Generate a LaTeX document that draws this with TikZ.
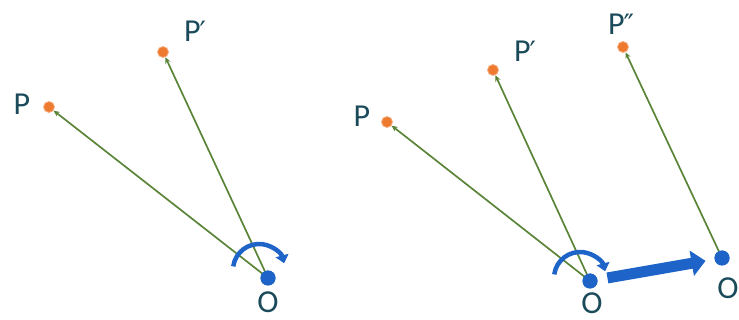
\documentclass[tikz,border=0pt]{standalone}
\usepackage{fontspec}
\setmainfont{Carlito}
\newfontfamily\primefont{DejaVu Sans}
\usetikzlibrary{arrows.meta}
\definecolor{lblc}{HTML}{1B4A5A}
\definecolor{grn}{HTML}{5A8538}
\definecolor{org}{HTML}{EE7A30}
\definecolor{blu}{HTML}{1E64C8}
\newcommand{\pr}{{\primefont\fontsize{28}{28}\selectfont\kern-1pt′}}
\newcommand{\ppr}{{\primefont\fontsize{28}{28}\selectfont\kern-1pt″}}
\tikzset{
  pdot/.style={circle,fill=org,draw=org!60!white,line width=0.8pt,inner sep=0pt,minimum size=11pt},
  odot/.style={circle,fill=blu,inner sep=0pt,minimum size=15pt},
  lbl/.style={text=lblc,font=\fontsize{32}{32}\selectfont,inner sep=0pt},
  vec/.style={draw=grn,line width=1.7pt,-{Stealth[length=6pt,width=5.5pt]}},
  rot/.style={draw=blu,line width=4.5pt,-{Triangle[length=8pt,width=13pt]}},
  mov/.style={draw=blu,line width=11pt,-{Triangle[length=14pt,width=25pt]},shorten <=10pt,shorten >=9pt}
}
\begin{document}
\begin{tikzpicture}[x=1pt,y=1pt]
\useasboundingbox (0,0) rectangle (739,-320);
% left panel
\node[odot] (O1) at (268,-278) {};
\node[pdot] (P1) at (49,-107) {};
\node[pdot] (Q1) at (163,-52) {};
\node[lbl] (lP1) at (22,-104) {P};
\node[lbl] (lQ1) at (195,-31) {P\pr};
\node[lbl] (lO1) at (268,-302) {O};
\draw[vec] (O1.center) -- (P1);
\draw[vec] (O1.center) -- (Q1);
\node[odot] at (O1) {};
\draw[rot] ([shift={(172:26)}]259,-270) arc (172:15:26);
% right panel
\node[odot] (O2) at (590,-281) {};
\node[odot] (O3) at (722,-258) {};
\node[pdot] (P2) at (387,-122) {};
\node[pdot] (Q2) at (493,-70) {};
\node[pdot] (R2) at (623,-47) {};
\node[lbl] (lP2) at (362,-116) {P};
\node[lbl] (lQ2) at (525,-51) {P\pr};
\node[lbl] (lR2) at (621,-24) {P\ppr};
\node[lbl] (lO2) at (592,-303) {O};
\node[lbl] (lO3) at (728,-288) {O};
\draw[vec] (O2.center) -- (P2);
\draw[vec] (O2.center) -- (Q2);
\draw[vec] (O3.center) -- (R2);
\node[odot] at (O2) {};
\node[odot] at (O3) {};
\draw[rot] ([shift={(172:26)}]580,-278) arc (172:15:26);
\draw[mov] (O2) -- (O3);
\end{tikzpicture}
\end{document}
